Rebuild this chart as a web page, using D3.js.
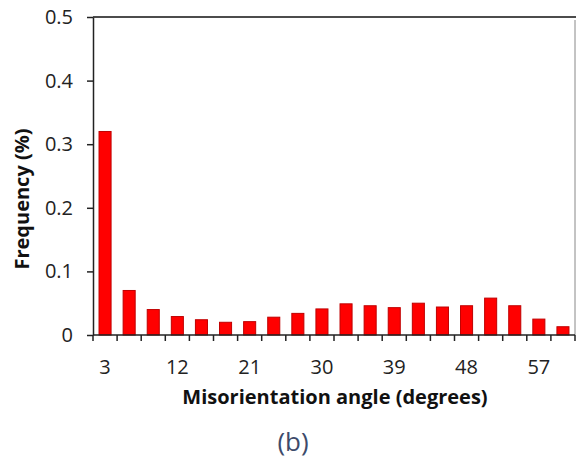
<!DOCTYPE html>
<html>
<head>
<meta charset="utf-8">
<script src="https://cdn.jsdelivr.net/npm/d3@7"></script>
<style>
  body { margin: 0; background: #fff; }
  svg { display: block; font-family: "Open Sans", Lato, sans-serif; }
</style>
</head>
<body>
<svg id="chart" width="576" height="461"></svg>
<script>
const categories = [3, 6, 9, 12, 15, 18, 21, 24, 27, 30, 33, 36, 39, 42, 45, 48, 51, 54, 57, 60];
const frequency = [0.320, 0.070, 0.040, 0.029, 0.024, 0.020, 0.021, 0.028, 0.034, 0.041,
                   0.049, 0.046, 0.043, 0.050, 0.044, 0.046, 0.058, 0.046, 0.025, 0.013];
const xTickLabels = [3, 12, 21, 30, 39, 48, 57];
const yTicks = [0, 0.1, 0.2, 0.3, 0.4, 0.5];

(function () {
const svg = d3.select("#chart");
const mLeft = 93, mRight = 575, mTop = 17, mBottom = 335;
const fontFam = "'Open Sans', Lato, sans-serif";

const x = d3.scaleBand().domain(categories).range([mLeft, mRight]).paddingInner(0.5).paddingOuter(0.25);
const y = d3.scaleLinear().domain([0, 0.5]).range([mBottom, mTop]);

// frame: top line and right border
svg.append("line").attr("x1", mLeft).attr("x2", 576).attr("y1", mTop).attr("y2", mTop)
  .attr("stroke", "#111").attr("stroke-width", 1.5);
svg.append("line").attr("x1", mRight).attr("x2", mRight).attr("y1", mTop + 3).attr("y2", mBottom)
  .attr("stroke", "#888").attr("stroke-width", 1);

// bars
svg.append("g").selectAll("rect").data(categories).join("rect")
  .attr("x", d => x(d))
  .attr("width", x.bandwidth())
  .attr("y", (d, i) => y(frequency[i]))
  .attr("height", (d, i) => y(0) - y(frequency[i]))
  .attr("fill", "#ff0000")
  .attr("stroke", "#c00000")
  .attr("stroke-width", 1);

// y axis
const yAxis = d3.axisLeft(y).tickValues(yTicks).tickFormat(d => d === 0 ? "0" : d3.format(".1f")(d))
  .tickSizeInner(6).tickSizeOuter(0).tickPadding(14);
const gy = svg.append("g").attr("transform", `translate(${mLeft},0)`).call(yAxis);
gy.select(".domain").attr("stroke", "#222").attr("stroke-width", 1.5);
gy.selectAll(".tick line").attr("stroke", "#222").attr("stroke-width", 1.5);
gy.selectAll(".tick text").attr("font-size", 20).attr("fill", "#222")
  .attr("font-family", fontFam);

// x axis: ticks at band boundaries
const n = categories.length;
const boundaries = d3.range(n + 1).map(i => mLeft + i * (mRight - mLeft) / n);
const gx = svg.append("g");
gx.append("line").attr("x1", mLeft).attr("x2", mRight).attr("y1", mBottom).attr("y2", mBottom)
  .attr("stroke", "#222").attr("stroke-width", 1.5);
gx.selectAll("line.tk").data(boundaries).join("line").attr("class", "tk")
  .attr("x1", d => d).attr("x2", d => d).attr("y1", mBottom).attr("y2", mBottom + 6)
  .attr("stroke", "#222").attr("stroke-width", 1.5);
gx.selectAll("text").data(xTickLabels).join("text")
  .attr("x", d => x(d) + x.bandwidth() / 2)
  .attr("y", 374)
  .attr("text-anchor", "middle")
  .attr("font-size", 20).attr("fill", "#222")
  .text(d => d);

// axis titles
svg.append("text").attr("x", 335).attr("y", 404).attr("text-anchor", "middle")
  .attr("font-size", 20).attr("font-weight", "bold").attr("fill", "#111")
  .text("Misorientation angle (degrees)");
svg.append("text").attr("transform", "translate(29,199) rotate(-90)").attr("text-anchor", "middle")
  .attr("font-size", 20).attr("font-weight", "bold").attr("fill", "#111")
  .text("Frequency (%)");
svg.append("text").attr("x", 293).attr("y", 451).attr("text-anchor", "middle")
  .attr("font-size", 26).attr("fill", "#3d4b6b")
  .text("(b)");
})();
</script>
</body>
</html>
